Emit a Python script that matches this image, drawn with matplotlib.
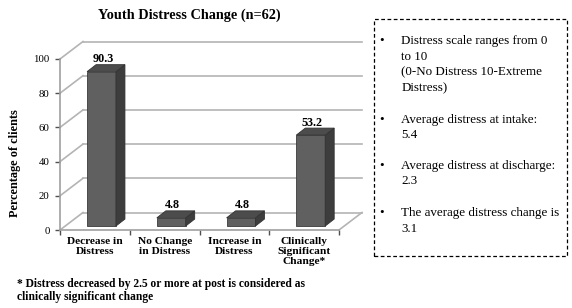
import matplotlib
matplotlib.use("Agg")
import matplotlib.pyplot as plt
from matplotlib.patches import Polygon, Rectangle

plt.rcParams['font.family'] = ['Liberation Serif', 'DejaVu Serif']

# data
categories = ["Decrease in\nDistress", "No Change\nin Distress", "Increase in\nDistress",
              "Clinically\nSignificant\nChange*"]
values = [90.3, 4.8, 4.8, 53.2]
yticks = [0, 20, 40, 60, 80, 100]
notes = [
    ["Distress scale ranges from 0", "to 10", "(0-No Distress 10-Extreme", "Distress)"],
    ["Average distress at intake:", "5.4"],
    ["Average distress at discharge:", "2.3"],
    ["The average distress change is", "3.1"],
]
title = "Youth Distress Change (n=62)"
ylabel = "Percentage of clients"
footnote = "* Distress decreased by 2.5 or more at post is considered as\nclinically significant change"

W, H = 572, 308
fig = plt.figure(figsize=(W / 100, H / 100), dpi=100)


def fx(px):
    return px / W


def fy(py):
    return 1 - py / H


# axes placement in pixels
x0_px, y0_px = 60, 230
cat_px = 69.75
unit_px = 1.71
xmin, xmax = -0.5, 3.844
ymax = 112
ax = fig.add_axes([fx(x0_px), fy(y0_px), (xmax - xmin) * cat_px / W, ymax * unit_px / H])
ax.set_xlim(xmin, xmax)
ax.set_ylim(0, ymax)

# 3d look: depth of the walls and bars
ddx, ddy = 23 / cat_px, 17.5 / unit_px
boff, bw = 0.095, 0.414
bdx, bdy = 9 / cat_px, 7 / unit_px
base = 2.3

grid_c = "#b4b4b4"
for v in yticks:
    ax.plot([-0.5 + ddx, 3.5 + ddx], [v + ddy, v + ddy], color=grid_c, lw=1.2, clip_on=False, zorder=1)
    ax.plot([-0.5, -0.5 + ddx], [v, v + ddy], color=grid_c, lw=1.2, clip_on=False, zorder=1)
ax.plot([3.5, 3.5 + ddx], [0, ddy], color=grid_c, lw=1.2, clip_on=False, zorder=1)

for s in ["top", "right"]:
    ax.spines[s].set_visible(False)
ax.spines["left"].set_bounds(0, 100)
ax.spines["bottom"].set_bounds(-0.5, 3.5)
for s in ["left", "bottom"]:
    ax.spines[s].set_color("#a0a0a0")
    ax.spines[s].set_linewidth(1.2)

ax.set_yticks(yticks)
ax.set_yticklabels([str(t) for t in yticks], fontsize=7.8)
ax.tick_params(axis="y", direction="out", length=3.5, width=1, color="#505050", pad=4)
ax.set_xticks([-0.5, 0.5, 1.5, 2.5, 3.5])
ax.set_xticklabels([])
ax.tick_params(axis="x", which="major", direction="out", length=3.5, width=1, color="#505050")
ax.set_xticks(range(len(categories)), minor=True)
ax.set_xticklabels(categories, minor=True, fontsize=8.2, fontweight="bold", linespacing=1.12)
ax.tick_params(axis="x", which="minor", length=0, pad=5)

xs = [i + boff for i in range(len(values))]
ax.bar(xs, values, width=bw, bottom=base, color="#606060", edgecolor="#3a3a3a", lw=0.6, zorder=3)
for x, v in zip(xs, values):
    xl, xr, top = x - bw / 2, x + bw / 2, base + v
    ax.add_patch(Polygon([(xr, base), (xr + bdx, base + bdy), (xr + bdx, top + bdy), (xr, top)],
                         closed=True, facecolor="#3d3d3d", edgecolor="#333333", lw=0.6, zorder=3))
    ax.add_patch(Polygon([(xl, top), (xl + bdx, top + bdy), (xr + bdx, top + bdy), (xr, top)],
                         closed=True, facecolor="#4c4c4c", edgecolor="#333333", lw=0.6, zorder=3))
    ax.text(x + 0.02, top + bdy + 1.5, f"{v}", ha="center", va="baseline",
            fontsize=8.7, fontweight="bold")

fig.text(fx(189.5), fy(15), title, ha="center", va="center", fontsize=10.3, fontweight="bold")
fig.text(fx(15), fy(163), ylabel, ha="center", va="center", rotation=90, fontsize=8.8, fontweight="bold")
fig.text(fx(17), fy(278.5), footnote, ha="left", va="top", fontsize=8.3, fontweight="bold", linespacing=1.1)

# dashed note box
fig.add_artist(Rectangle((fx(374), fy(256)), fx(567) - fx(374), fy(19) - fy(256),
                         transform=fig.transFigure, fill=False, edgecolor="black",
                         lw=0.9, linestyle=(0, (3, 2))))
line_y = [[41, 56.5, 72.5, 88.5], [120, 135.5], [166, 181.5], [213, 229]]
for block, ys in zip(notes, line_y):
    fig.text(fx(382), fy(ys[0]), "\u2022", ha="center", va="center", fontsize=9.4)
    for txt, y in zip(block, ys):
        fig.text(fx(401.5), fy(y), txt, ha="left", va="center", fontsize=9.4)

fig.savefig("out.png", dpi=100)
